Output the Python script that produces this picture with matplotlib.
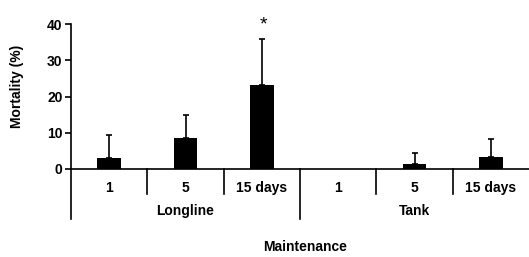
import matplotlib
matplotlib.use("Agg")
import matplotlib.pyplot as plt
import matplotlib.transforms as mtransforms

plt.rcParams['font.family'] = ['Liberation Sans', 'DejaVu Sans']
plt.rcParams['font.weight'] = 'bold'
plt.rcParams['font.size'] = 10

groups = ["Longline", "Tank"]
days = ["1", "5", "15 days"]
mortality = [3.0, 8.6, 23.2, 0.0, 1.5, 3.4]
err_upper = [6.5, 6.2, 12.8, 0.0, 2.8, 5.0]
signif = ["", "", "*", "", "", ""]

fig = plt.figure(figsize=(5.29, 2.57), dpi=100)
ax = fig.add_axes([71 / 529, 1 - 169 / 257, 458 / 529, 145 / 257])

n = len(mortality)
x = [i + 0.5 for i in range(n)]
ex = [xi for xi, e in zip(x, err_upper) if e > 0]
ey = [m for m, e in zip(mortality, err_upper) if e > 0]
ee = [e for e in err_upper if e > 0]
ax.errorbar(ex, ey, yerr=[[0] * len(ee), ee], fmt='none', ecolor='black',
            elinewidth=1.2, capsize=2.2, capthick=1.2, zorder=2)
ax.bar(x, mortality, width=0.31, color='black', zorder=3)

for xi, m, e, s in zip(x, mortality, err_upper, signif):
    if s:
        ax.annotate(s, (xi, m + e), xytext=(1.5, 10), textcoords='offset points',
                    ha='center', va='center', fontsize=14, fontweight='normal',
                    annotation_clip=False)

ax.set_xlim(0, n)
ax.set_ylim(0, 40)
ax.set_yticks([0, 10, 20, 30, 40])
ax.tick_params(axis='y', direction='out', length=4, width=1.2, pad=2)
ax.set_xticks(x)
ax.set_xticklabels(days * len(groups))
ax.tick_params(axis='x', length=0, pad=8.5)

for side in ['top', 'right']:
    ax.spines[side].set_visible(False)
ax.spines['left'].set_linewidth(1.2)
ax.spines['bottom'].set_linewidth(1.2)

trans = mtransforms.blended_transform_factory(ax.transData, ax.transAxes)
per_group = len(days)
for i in range(n):
    depth = -0.345 if i % per_group == 0 else -0.175
    ax.plot([i, i], [0, depth], color='black', lw=1.2, transform=trans, clip_on=False)

for g, name in enumerate(groups):
    ax.text(g * per_group + per_group / 2, -0.29, name, transform=trans,
            ha='center', va='center')

fig.text(305 / 529, 1 - 247 / 257, "Maintenance", ha='center', va='center')
fig.text(17 / 529, 1 - 86 / 257, "Mortality (%)", rotation=90, ha='center', va='center')

fig.savefig("out.png", dpi=100)
